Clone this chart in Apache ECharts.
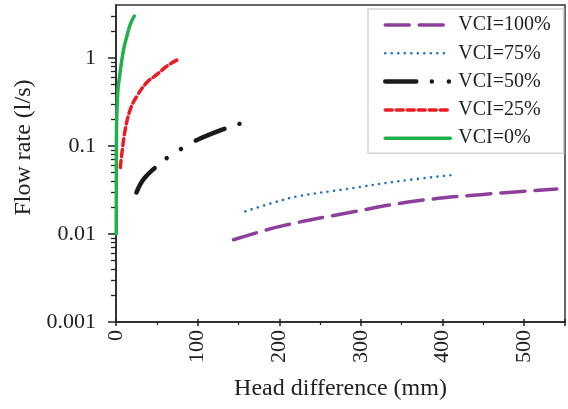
<!DOCTYPE html>
<html>
<head>
<meta charset="utf-8">
<script src="https://cdn.jsdelivr.net/npm/echarts@6/dist/echarts.min.js"></script>
<style>
  html, body { margin: 0; padding: 0; background: #fff; }
  #chart { width: 568px; height: 409px; }
</style>
</head>
<body>
<div id="chart"></div>
<script>
// [head difference (mm), flow rate (l/s)]
var vci100 = [[144, 0.0086], [201, 0.0122], [283, 0.0173], [364.7, 0.0235], [446.4, 0.028], [540, 0.0325]];
var vci75 = [[158.6, 0.0181], [191.5, 0.0225], [221.8, 0.0267], [283, 0.0325], [344.4, 0.0396], [415.8, 0.0472]];
var vci50 = [[25, 0.0296], [33.8, 0.042], [48.2, 0.057], [63.2, 0.074], [80.9, 0.094], [99.3, 0.117], [134, 0.158], [152.3, 0.18]];
var vci25 = [[5.3, 0.057], [7.3, 0.084], [11.4, 0.155], [17.5, 0.26], [25.7, 0.37], [38, 0.53], [50.2, 0.65], [62.5, 0.81], [74.8, 0.95]];
var vci0 = [[0.3, 0.01], [0.4, 0.03], [0.5, 0.1], [0.8, 0.2], [1.5, 0.3], [2.5, 0.45], [4.4, 0.62], [6.1, 0.81], [9.4, 1.26], [13.4, 1.78], [17.5, 2.41], [22.4, 3.0]];

var names = ['VCI=100%', 'VCI=75%', 'VCI=50%', 'VCI=25%', 'VCI=0%'];
var xTicks = [0, 100, 200, 300, 400, 500];
var yTicks = [0.001, 0.01, 0.1, 1];
var yMax = 4;

// minor ticks of the log axis: 2..9 in each decade
var yMinor = [];
yTicks.forEach(function (d) {
    for (var m = 2; m <= 9; m++) {
        if (m * d < yMax) yMinor.push(+(m * d).toPrecision(3));
    }
});

var font = 'Liberation Serif';
var ink = '#222';
var myChart = echarts.init(document.getElementById('chart'));

function line(name, data, color, width, type) {
    return {
        name: name,
        type: 'line',
        data: data,
        smooth: 0.4,
        symbol: 'none',
        lineStyle: { color: color, width: width, type: type, cap: 'round' },
        itemStyle: { color: color }
    };
}

var option = {
    animation: false,
    grid: {
        left: 116, right: 3, top: 5, bottom: 87,
        show: true, borderColor: '#333', borderWidth: 1.5
    },
    legend: {
        data: names,
        orient: 'vertical',
        left: 368, top: 9,
        padding: [6, 13, 5, 15],
        itemWidth: 65, itemHeight: 14, itemGap: 8.3,
        backgroundColor: '#fff',
        borderColor: '#d4d4d4', borderWidth: 1.5,
        itemStyle: { opacity: 0 },
        lineStyle: { width: 'inherit' },
        textStyle: { fontFamily: font, fontSize: 20, color: ink, lineHeight: 20, padding: [0, 0, 0, 3] }
    },
    xAxis: [{
        type: 'value',
        min: 0, max: 550, interval: 100,
        name: 'Head difference (mm)',
        nameLocation: 'middle', nameGap: 55,
        nameTextStyle: { fontFamily: font, fontSize: 24, color: ink },
        axisLine: { show: true, lineStyle: { color: ink, width: 1.5 } },
        axisTick: { show: true, length: 4, lineStyle: { color: ink, width: 1.5 } },
        minorTick: { show: true, splitNumber: 2, length: 3, lineStyle: { color: ink, width: 1.2 } },
        axisLabel: {
            rotate: 90, margin: 8, showMaxLabel: false,
            fontFamily: font, fontSize: 22, color: ink,
            formatter: function (v) { return xTicks.indexOf(v) >= 0 ? String(v) : ''; }
        },
        splitLine: { show: false }
    }, {
        // inner half of the major ticks
        type: 'value', position: 'bottom',
        min: 0, max: 550, interval: 100,
        axisLine: { show: false },
        axisTick: { show: true, inside: true, length: 3, lineStyle: { color: ink, width: 1.5 } },
        axisLabel: { show: false },
        splitLine: { show: false }
    }],
    yAxis: [{
        type: 'log', logBase: 10,
        min: 0.001, max: yMax,
        name: 'Flow rate (l/s)',
        nameLocation: 'middle', nameGap: 71,
        nameTextStyle: { fontFamily: font, fontSize: 24, color: ink, padding: [0, 0, 0, 32] },
        axisLine: { show: true, lineStyle: { color: ink, width: 1.5 } },
        axisTick: { show: true, customValues: yTicks, length: 8, lineStyle: { color: ink, width: 1.5 } },
        axisLabel: {
            customValues: yTicks,
            margin: 20,
            fontFamily: font, fontSize: 22, color: ink,
            formatter: function (v) {
                for (var i = 0; i < yTicks.length; i++) {
                    if (Math.abs(v - yTicks[i]) < yTicks[i] * 1e-6) return String(yTicks[i]);
                }
                return '';
            }
        },
        splitLine: { show: false }
    }, {
        // 2..9 minor ticks of each decade
        type: 'log', logBase: 10, position: 'left',
        min: 0.001, max: yMax,
        axisLine: { show: false },
        axisTick: { show: true, customValues: yMinor, length: 5, lineStyle: { color: ink, width: 1.3 } },
        axisLabel: { show: false },
        splitLine: { show: false }
    }],
    series: [
        line(names[0], vci100, '#8e3f9c', 3.5, [24, 10]),
        line(names[1], vci75, '#1f73c1', 2.6, [0.01, 6.5]),
        line(names[2], vci50, '#1a1a1a', 4.5, [31, 15.6, 0.01, 17, 0.01, 17]),
        line(names[3], vci25, '#ec1c24', 3.5, [7, 4]),
        line(names[4], vci0, '#22b04b', 3.5, 'solid')
    ]
};

myChart.setOption(option);
</script>
</body>
</html>
